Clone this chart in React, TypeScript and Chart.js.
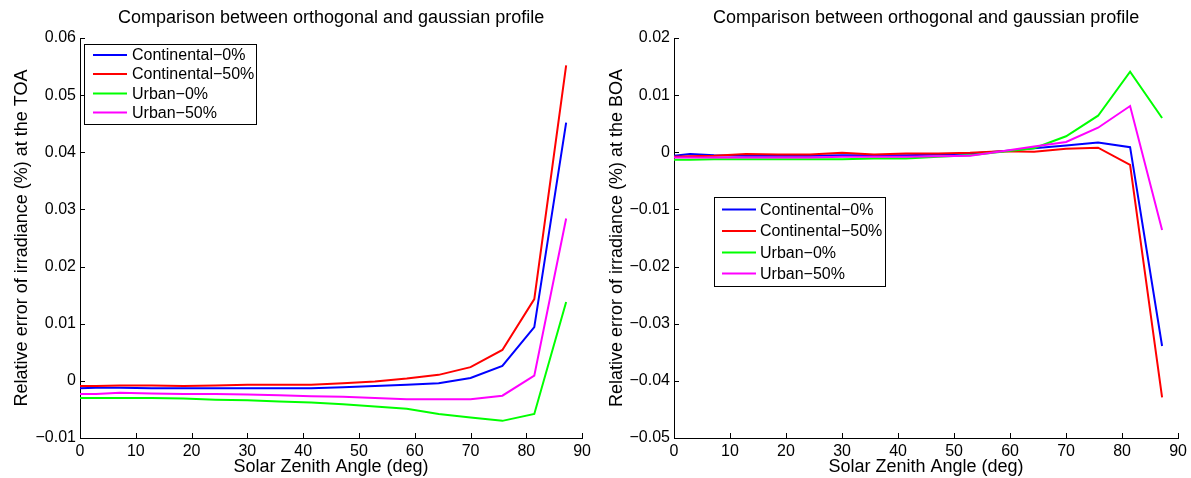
import React, { useEffect, useRef } from 'react';
import { Chart, registerables } from 'chart.js';

Chart.register(...registerables);

// ---------------- data ----------------
const ANGLES = [0, 2.86, 7.14, 12.86, 18.57, 24.29, 30, 35.71, 41.43, 47.14, 52.86, 58.57, 64.29, 70, 75.71, 81.43, 87.14];

const SERIES_LABELS = ['Continental\u22120%', 'Continental\u221250%', 'Urban\u22120%', 'Urban\u221250%'];
const SERIES_COLORS = ['#0000ff', '#ff0000', '#00ff00', '#ff00ff'];

// Top of atmosphere
const contTOA0 = [-0.0013, -0.0012, -0.0012, -0.0013, -0.0013, -0.0013, -0.0013, -0.0013, -0.0013, -0.0011, -0.0009, -0.0007, -0.0004, 0.0005, 0.0026, 0.0094, 0.0452];
const contTOA50 = [-0.0009, -0.0009, -0.0008, -0.0008, -0.0009, -0.0008, -0.0007, -0.0007, -0.0007, -0.0004, -0.0001, 0.0004, 0.00105, 0.0024, 0.0054, 0.0143, 0.0552];
const urbTOA0 = [-0.003, -0.003, -0.003, -0.003, -0.0031, -0.0033, -0.0034, -0.0036, -0.0038, -0.0041, -0.0045, -0.0049, -0.0058, -0.0064, -0.007, -0.0058, 0.0138];
const urbTOA50 = [-0.0023, -0.0023, -0.0021, -0.0022, -0.0023, -0.0023, -0.0024, -0.0025, -0.0027, -0.0028, -0.003, -0.0032, -0.0032, -0.0032, -0.0026, 0.0009, 0.0284];

// Bottom of atmosphere
const contBOA0 = [-0.0006, -0.0003, -0.0005, -0.0006, -0.0006, -0.0006, -0.0005, -0.0005, -0.0005, -0.0004, -0.0002, 0.0002, 0.0007, 0.0012, 0.0017, 0.0009, -0.0339];
const contBOA50 = [-0.0008, -0.0007, -0.0006, -0.0003, -0.0004, -0.0004, -0.0001, -0.0004, -0.0002, -0.0002, -0.0001, 0.0002, 0.0001, 0.0006, 0.0008, -0.0022, -0.0429];
const urbBOA0 = [-0.0013, -0.0013, -0.0012, -0.0012, -0.0012, -0.0012, -0.0012, -0.0011, -0.0011, -0.0008, -0.0005, 0.0001, 0.0007, 0.0028, 0.0064, 0.0141, 0.006];
const urbBOA50 = [-0.0009, -0.0009, -0.0009, -0.0009, -0.0009, -0.0009, -0.0008, -0.0008, -0.0008, -0.0007, -0.0006, 0.0002, 0.001, 0.0018, 0.0043, 0.0081, -0.0136];

const X_TICKS = [0, 10, 20, 30, 40, 50, 60, 70, 80, 90];
const TOA_TICKS = [-0.01, 0, 0.01, 0.02, 0.03, 0.04, 0.05, 0.06];
const BOA_TICKS = [-0.05, -0.04, -0.03, -0.02, -0.01, 0, 0.01, 0.02];

const TITLE = 'Comparison between orthogonal and gaussian profile';
const X_TITLE = 'Solar Zenith Angle (deg)';
const TOA_Y_TITLE = 'Relative error of irradiance (%) at the TOA';
const BOA_Y_TITLE = 'Relative error of irradiance (%) at the BOA';

// ---------------- styling ----------------
const FONT = '"Liberation Sans", Arial, Helvetica, sans-serif';

const fmtY = (v: number) => {
  if (Math.abs(v) < 1e-9) return '0';
  return v.toFixed(2).replace('-', '\u2212');
};

const inwardTicks = {
  id: 'inwardTicks',
  afterDatasetsDraw(chart: any) {
    const { ctx, chartArea, scales } = chart;
    const len = 5;
    ctx.save();
    ctx.strokeStyle = '#000';
    ctx.lineWidth = 1;
    scales.x.ticks.forEach((t: any) => {
      const px = Math.round(scales.x.getPixelForValue(t.value)) + 0.5;
      ctx.beginPath();
      ctx.moveTo(px, chartArea.bottom);
      ctx.lineTo(px, chartArea.bottom - len);
      ctx.stroke();
    });
    scales.y.ticks.forEach((t: any) => {
      const py = Math.round(scales.y.getPixelForValue(t.value)) + 0.5;
      ctx.beginPath();
      ctx.moveTo(chartArea.left, py);
      ctx.lineTo(chartArea.left + len, py);
      ctx.stroke();
    });
    ctx.restore();
  },
};

const boxLegend = {
  id: 'boxLegend',
  afterDraw(chart: any, _args: any, opts: any) {
    const { ctx } = chart;
    const { left, top, width, height, rows, lineX0, lineX1, textX } = opts;
    ctx.save();
    ctx.fillStyle = '#fff';
    ctx.fillRect(left, top, width, height);
    ctx.strokeStyle = '#000';
    ctx.lineWidth = 1;
    ctx.strokeRect(left + 0.5, top + 0.5, width, height);
    ctx.font = `16px ${FONT}`;
    ctx.textBaseline = 'middle';
    ctx.textAlign = 'left';
    chart.data.datasets.forEach((ds: any, i: number) => {
      const y = rows[i];
      ctx.strokeStyle = ds.borderColor;
      ctx.lineWidth = 2;
      ctx.beginPath();
      ctx.moveTo(lineX0, y);
      ctx.lineTo(lineX1, y);
      ctx.stroke();
      ctx.fillStyle = '#000';
      ctx.fillText(ds.label, textX, y + 1);
    });
    ctx.restore();
  },
};

function makeConfig(series: number[][], yTicks: number[], yTitle: string, pad: any, legend: any) {
  const datasets = series.map((vals, i) => ({
    label: SERIES_LABELS[i],
    data: ANGLES.map((a, j) => ({ x: a, y: vals[j] })),
    borderColor: SERIES_COLORS[i],
    backgroundColor: SERIES_COLORS[i],
    borderWidth: 2,
    pointRadius: 0,
    tension: 0,
    fill: false,
    order: series.length - i,
  }));
  return {
    type: 'line' as const,
    data: { datasets },
    plugins: [inwardTicks, boxLegend],
    options: {
      responsive: false,
      animation: false,
      events: [],
      layout: { padding: { left: 0, right: pad.right, top: 0, bottom: 0 } },
      plugins: {
        legend: { display: false },
        tooltip: { enabled: false },
        title: {
          display: true,
          text: TITLE,
          fullSize: false,
          color: '#000',
          font: { family: FONT, size: 18, weight: 'normal' },
          padding: { top: 7, bottom: 9.4 },
        },
        boxLegend: legend,
      },
      scales: {
        x: {
          type: 'linear',
          min: 0,
          max: 90,
          afterBuildTicks: (s: any) => {
            s.ticks = X_TICKS.map((v) => ({ value: v }));
          },
          afterFit: (s: any) => {
            s.height = 40;
          },
          grid: { display: false, drawTicks: false },
          border: { display: true, color: '#000', width: 1 },
          ticks: {
            color: '#000',
            font: { family: FONT, size: 16 },
            padding: 4,
            maxRotation: 0,
            autoSkip: false,
            callback: (v: any) => String(v),
          },
          title: {
            display: true,
            text: X_TITLE,
            color: '#000',
            font: { family: FONT, size: 18 },
            padding: { top: 0, bottom: 0 },
          },
        },
        y: {
          type: 'linear',
          min: yTicks[0],
          max: yTicks[yTicks.length - 1],
          afterBuildTicks: (s: any) => {
            s.ticks = yTicks.map((v) => ({ value: v }));
          },
          afterFit: (s: any) => {
            s.width = pad.yWidth;
          },
          grid: { display: false, drawTicks: false },
          border: { display: true, color: '#000', width: 1 },
          ticks: {
            color: '#000',
            font: { family: FONT, size: 16 },
            padding: 4,
            autoSkip: false,
            callback: (v: any) => fmtY(Number(v)),
          },
          title: {
            display: true,
            text: yTitle,
            color: '#000',
            font: { family: FONT, size: 18 },
            padding: { top: 11, bottom: 0 },
          },
        },
      },
    },
  };
}

function Panel({ left, width, config }: { left: number; width: number; config: any }) {
  const ref = useRef<HTMLCanvasElement | null>(null);
  useEffect(() => {
    if (!ref.current) return;
    const chart = new Chart(ref.current, config);
    return () => chart.destroy();
  }, [config]);
  return (
    <canvas
      ref={ref}
      width={width}
      height={478}
      style={{ position: 'absolute', left, top: 0, width, height: 478 }}
    />
  );
}

const leftConfig = makeConfig(
  [contTOA0, contTOA50, urbTOA0, urbTOA50],
  TOA_TICKS,
  TOA_Y_TITLE,
  { right: 7, yWidth: 80 },
  { left: 84, top: 44, width: 172, height: 80, rows: [55, 74, 93.5, 112.5], lineX0: 93, lineX1: 127, textX: 132 }
);

const rightConfig = makeConfig(
  [contBOA0, contBOA50, urbBOA0, urbBOA50],
  BOA_TICKS,
  BOA_Y_TITLE,
  { right: 10, yWidth: 79 },
  { left: 119, top: 197, width: 171, height: 89, rows: [209.5, 231, 252.5, 273.5], lineX0: 127, lineX1: 161, textX: 165 }
);

export default function App() {
  return (
    <div style={{ position: 'absolute', left: 0, top: 0, width: 1191, height: 478, background: '#fff', overflow: 'hidden' }}>
      <Panel left={0} width={595} config={leftConfig} />
      <Panel left={595} width={596} config={rightConfig} />
    </div>
  );
}
